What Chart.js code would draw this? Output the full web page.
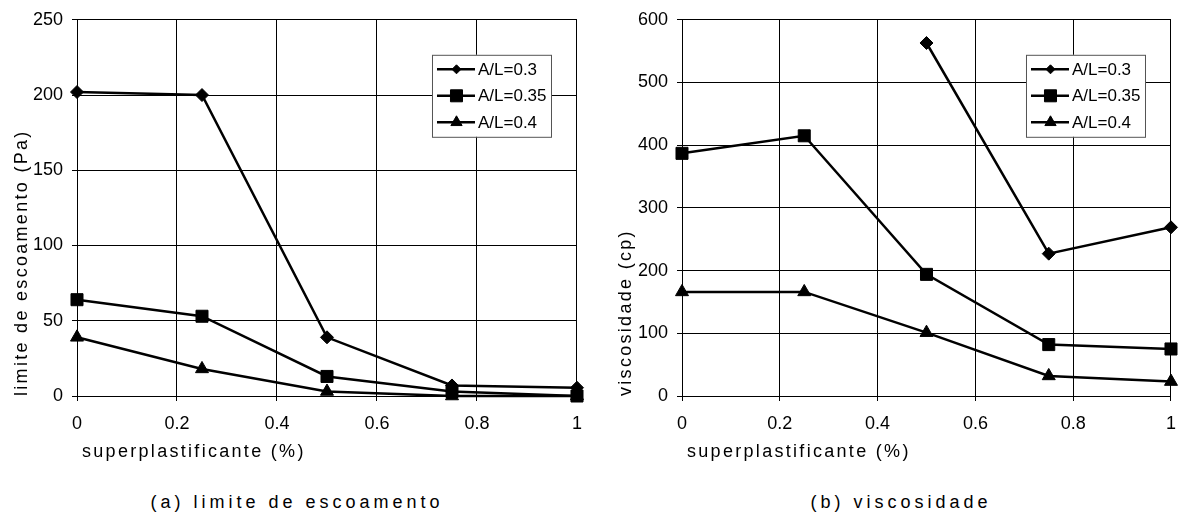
<!DOCTYPE html>
<html>
<head>
<meta charset="utf-8">
<script src="https://cdn.jsdelivr.net/npm/chart.js@4.4.1/dist/chart.umd.min.js"></script>
<style>
 body{margin:0;background:#fff;font-family:"Liberation Sans",Arial,sans-serif;}
 #wrap{display:flex;width:1188px;height:516px;}
 .panel{position:relative;width:594px;height:516px;}
 .panel canvas{position:absolute;left:0;top:0;}
 .caption{position:absolute;top:492px;left:0;width:594px;text-align:center;font-size:18px;letter-spacing:4px;color:#000;line-height:20px;}
</style>
</head>
<body>
<div id="wrap">
 <div class="panel"><canvas id="chartA" width="594" height="470"></canvas><div class="caption">(a) limite de escoamento</div></div>
 <div class="panel"><canvas id="chartB" width="594" height="470"></canvas><div class="caption" style="left:20px;width:574px">(b) viscosidade</div></div>
</div>
<script>
const xPct=[0,0.25,0.5,0.75,1];
const seriesLabels=["A/L=0.3","A/L=0.35","A/L=0.4"];

// limite de escoamento (Pa)
const yieldAL03=[202,200,39,7,5.5];
const yieldAL035=[64,53,13,3,0];
const yieldAL04=[39,18,3,0,0];

// viscosidade (cp)
const viscAL03=[null,null,563,227,269];
const viscAL035=[387,415,194,82,75];
const viscAL04=[166,166,101,32,23];

const markers=["rectRot","rect","triangle"];
const markerRadius=[6.5,8.5,7.5];
const legendRadius=[4.5,8.5,6.5];

const FONT='"Liberation Sans", Arial, sans-serif';
const TITLE_SPACING="2.3px";

function pts(vals){
 return xPct.map((x,i)=>({x:x,y:vals[i]})).filter(p=>p.y!==null);
}

function makeSets(lists){
 return lists.map((vals,i)=>({
   label:seriesLabels[i],
   data:pts(vals),
   borderColor:"#000",
   backgroundColor:"#000",
   borderWidth:2.5,
   pointStyle:markers[i],
   pointRadius:markerRadius[i],
   pointBorderWidth:1,
   pointBackgroundColor:"#000",
   pointBorderColor:"#000",
   tension:0,
   clip:false
 }));
}

// legend box drawn inside the plot area
const boxLegend={
 id:"boxLegend",
 afterDraw(chart){
   const ctx=chart.ctx,a=chart.chartArea;
   const w=119,h=82,left=a.right-26-w,top=a.top+35;
   ctx.save();
   ctx.fillStyle="#fff";
   ctx.fillRect(left,top,w,h);
   ctx.strokeStyle="#555";
   ctx.lineWidth=1;
   ctx.strokeRect(left+0.5,top+0.5,w,h);
   ctx.font="17px "+FONT;
   ctx.textBaseline="middle";
   chart.data.datasets.forEach((ds,i)=>{
     const y=top+14.5+i*26.5;
     ctx.strokeStyle="#000";
     ctx.lineWidth=2.5;
     ctx.beginPath();
     ctx.moveTo(left+5,y);
     ctx.lineTo(left+43,y);
     ctx.stroke();
     ctx.lineWidth=1;
     ctx.fillStyle="#000";
     Chart.helpers.drawPoint(ctx,{pointStyle:ds.pointStyle,radius:legendRadius[i],borderWidth:1,rotation:0},left+24.5,y);
     ctx.fillText(ds.label,left+46,y+1);
   });
   ctx.restore();
 }
};

// axis titles with letter spacing
const spacedTitles={
 id:"spacedTitles",
 beforeDraw(chart){
   Object.values(chart.scales).forEach(s=>{
     if(s._spaced) return;
     const orig=s.drawTitle;
     s.drawTitle=function(){
       const ctx=this.ctx;
       ctx.save();
       ctx.letterSpacing=TITLE_SPACING;
       if(this.isHorizontal()) ctx.translate(5,0);
       orig.call(this);
       ctx.restore();
     };
     s._spaced=true;
   });
 }
};

const tickFmt=v=>String(+Number(v).toFixed(2));

function makeChart(id,sets,yMax,yStep,yTitle,axisW,titlePad,padRight){
 return new Chart(document.getElementById(id),{
   type:"line",
   data:{datasets:sets},
   options:{
     responsive:false,
     animation:false,
     devicePixelRatio:1,
     layout:{padding:{top:19,right:padRight,bottom:7,left:0}},
     plugins:{legend:{display:false},tooltip:{enabled:false}},
     scales:{
       x:{
         type:"linear",min:0,max:1,
         ticks:{stepSize:0.2,color:"#000",font:{family:FONT,size:18},padding:12,callback:tickFmt},
         grid:{color:"#000",tickLength:5},
         border:{color:"#000"},
         title:{display:true,text:"superplastificante (%)",align:"start",color:"#000",
           font:{family:FONT,size:18},padding:{top:7,bottom:0}},
         afterFit(s){s.height=67;}
       },
       y:{
         min:0,max:yMax,
         ticks:{stepSize:yStep,color:"#000",font:{family:FONT,size:18},padding:9,callback:tickFmt},
         grid:{color:"#000",tickLength:5},
         border:{color:"#000"},
         title:{display:true,text:yTitle,align:"start",color:"#000",
           font:{family:FONT,size:18},padding:{top:titlePad,bottom:0}},
         afterFit(s){s.width=axisW;}
       }
     }
   },
   plugins:[boxLegend,spacedTitles]
 });
}

makeChart("chartA",makeSets([yieldAL03,yieldAL035,yieldAL04]),250,50,"limite de escoamento (Pa)",77,11,17);
makeChart("chartB",makeSets([viscAL03,viscAL035,viscAL04]),600,100,"viscosidade (cp)",88,21,6);
</script>
</body>
</html>
